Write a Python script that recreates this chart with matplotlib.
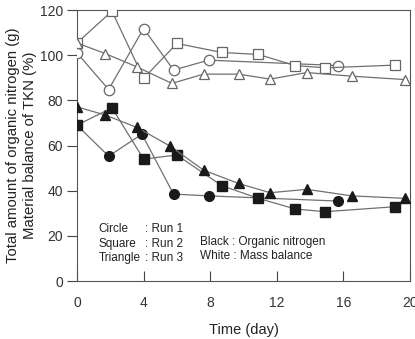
import matplotlib
matplotlib.use("Agg")
import matplotlib.pyplot as plt

plt.rcParams['font.family'] = ['Liberation Sans', 'DejaVu Sans']

# Organic nitrogen (black, filled)
x_c_on = [0, 1.9, 3.9, 5.8, 7.9, 15.7]
y_c_on = [69, 55.3, 65, 38.5, 37.7, 35.4]
x_s_on = [0, 2.1, 4.0, 6.0, 8.7, 10.9, 13.1, 14.9, 19.1]
y_s_on = [69, 76.7, 54, 55.8, 42.2, 36.6, 31.9, 30.7, 32.9]
x_t_on = [0, 1.7, 3.6, 5.6, 7.6, 9.7, 11.6, 13.8, 16.5, 19.7]
y_t_on = [77.1, 73.5, 68, 59.7, 49.1, 43.2, 39.1, 40.6, 37.7, 36.6]

# Mass balance (white, open)
x_c_mb = [0, 1.9, 4.0, 5.8, 7.9, 15.7]
y_c_mb = [101, 84.8, 111.8, 93.4, 97.8, 95.4]
x_s_mb = [0, 2.1, 4.0, 6.0, 8.7, 10.9, 13.1, 14.9, 19.1]
y_s_mb = [105.4, 119.5, 89.7, 105.2, 101.2, 100.3, 95.4, 94.4, 95.6]
x_t_mb = [0, 1.7, 3.6, 5.7, 7.6, 9.7, 11.6, 13.8, 16.5, 19.7]
y_t_mb = [105.4, 100.7, 94.8, 87.5, 91.6, 91.6, 89.4, 92.3, 90.7, 89.2]

x_ticks = [0, 4, 8, 12, 16, 20]
y_ticks = [0, 20, 40, 60, 80, 100, 120]

fig = plt.figure(figsize=(4.15, 3.39), dpi=100)
ax = fig.add_axes([0.1855, 0.171, 0.8025, 0.7995])

line_c = '#707070'
edge_open = '#666666'
fill_dark = '#1a1a1a'

for xs, ys, m, ms in [(x_c_mb, y_c_mb, 'o', 7.5), (x_s_mb, y_s_mb, 's', 7), (x_t_mb, y_t_mb, '^', 7.5)]:
    ax.plot(xs, ys, color=line_c, lw=0.9, marker=m, ms=ms, mfc='white', mec=edge_open, mew=0.9, zorder=3)

for xs, ys, m, ms in [(x_c_on, y_c_on, 'o', 7), (x_s_on, y_s_on, 's', 6.5), (x_t_on, y_t_on, '^', 7)]:
    ax.plot(xs, ys, color=line_c, lw=0.9, marker=m, ms=ms, mfc=fill_dark, mec=fill_dark, zorder=4)

ax.set_xlim(0, 20)
ax.set_ylim(0, 120)
ax.set_xticks(x_ticks)
ax.set_yticks(y_ticks)
ax.tick_params(axis='x', direction='in', length=7, width=0.8, colors='#444444', labelsize=10, pad=11, labelcolor='#333333')
ax.tick_params(axis='y', direction='out', length=7, width=0.8, colors='#444444', labelsize=10, pad=3, labelcolor='#333333')
for s in ax.spines.values():
    s.set_color('#555555')
    s.set_linewidth(0.8)

ax.set_xlabel('Time (day)', fontsize=10.5, color='#222222', labelpad=9)
ax.set_ylabel('Total amount of organic nitrogen (g)\nMaterial balance of TKN (%)', fontsize=10.7,
              color='#222222', labelpad=2, linespacing=1.25)

tk = dict(fontsize=8.5, color='#222222', va='center')
ax.text(1.3, 23, 'Circle', **tk)
ax.text(1.3, 16.5, 'Square', **tk)
ax.text(1.3, 10, 'Triangle', **tk)
ax.text(4.1, 23, ': Run 1', **tk)
ax.text(4.1, 16.5, ': Run 2', **tk)
ax.text(4.1, 10, ': Run 3', **tk)
ax.text(7.4, 17.5, 'Black : Organic nitrogen', **tk)
ax.text(7.4, 11, 'White : Mass balance', **tk)

fig.savefig('out.png', dpi=100)
